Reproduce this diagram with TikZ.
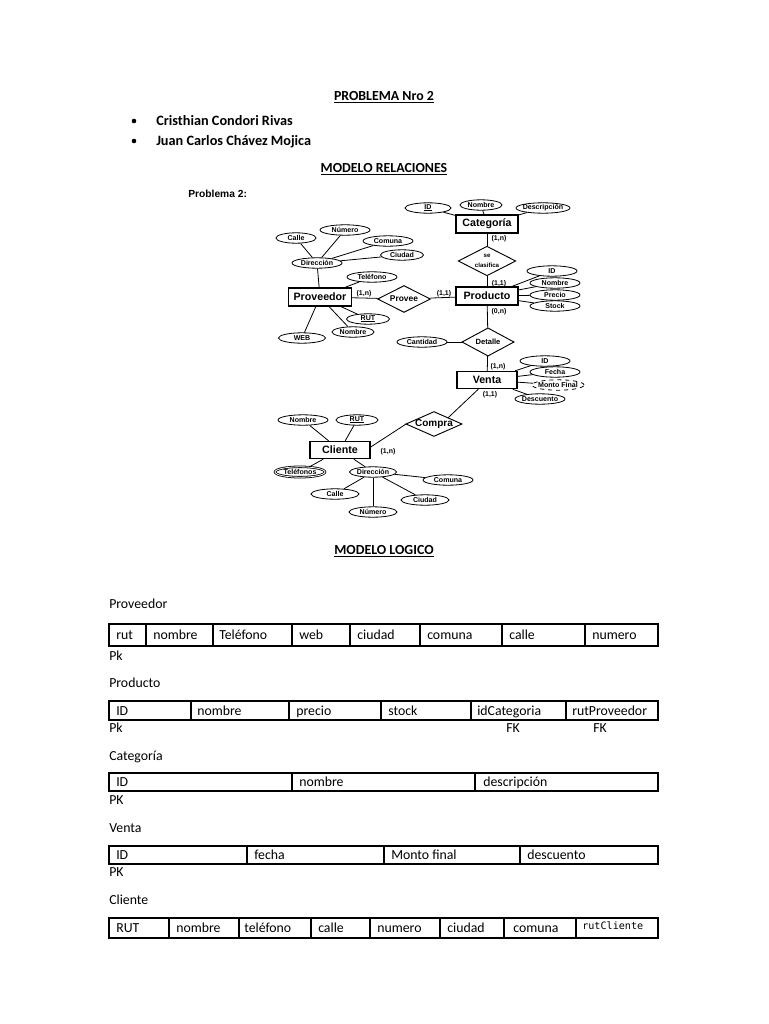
\documentclass[tikz,border=0pt]{standalone}
\usepackage{fontspec}
\setmainfont{Carlito}
\newfontfamily\arialf{Liberation Sans}
\newfontfamily\monof{DejaVu Sans Mono}
\usetikzlibrary{shapes.geometric,calc}
\newcommand\myul[1]{\setbox0\hbox{#1}\rlap{\rule[-0.7pt]{\wd0}{0.35pt}}\box0}
\begin{document}
\begin{tikzpicture}[x=0.75pt,y=-0.75pt,
  txt/.style={inner sep=0pt, anchor=base west, font=\fontsize{10.35}{12}\selectfont},
  hd/.style={inner sep=0pt, anchor=base, font=\bfseries\fontsize{10.4}{12}\selectfont},
  hdl/.style={inner sep=0pt, anchor=base west, font=\bfseries\fontsize{10.7}{12}\selectfont},
  ent/.style={draw, line width=1.1pt, rectangle, inner sep=0pt, minimum width=#1*0.75pt, minimum height=13.5pt, font=\arialf\bfseries\fontsize{8}{9}\selectfont},
  attr/.style={draw, ellipse, line width=0.6pt, inner sep=0pt, minimum width=#1*0.75pt, minimum height=7.8pt, font=\arialf\bfseries\fontsize{5.3}{5.8}\selectfont},
  relbox/.style={rectangle, inner sep=0pt},
  rel/.style={line width=0.7pt, line join=miter},
  card/.style={inner sep=0pt, font=\arialf\bfseries\fontsize{5.2}{6}\selectfont},
  erline/.style={line width=0.6pt},
  grid/.style={line width=0.9pt}
]
\useasboundingbox (0,0) rectangle (768,1024);
\fill[white] (0,0) rectangle (768,1024);

% ---------- header ----------
\node[hd] (title) at (384,100) {\underline{PROBLEMA Nro 2}};
\fill (134,121) circle (2.3);
\fill (134,141) circle (2.3);
\node[hdl] (n1) at (156,125) {Cristhian Condori Rivas};
\node[hdl] (n2) at (156,145) {Juan Carlos Chávez Mojica};
\node[hd] (mrel) at (384,172) {\underline{MODELO RELACIONES}};
\node[inner sep=0pt, anchor=base west, font=\arialf\bfseries\fontsize{7.7}{9}\selectfont] (prob) at (188,197) {Problema 2:};

% ---------- ER diagram ----------
% Proveedor
\node[ent=63] (pv) at (320,297) {Proveedor};
\node[attr=50] (pvdir) at (317,263) {\makebox[0pt]{Dirección}};
\node[attr=40] (pvcalle) at (296,238) {\makebox[0pt]{Calle}};
\node[attr=50] (pvnum) at (345,230) {\makebox[0pt]{Número}};
\node[attr=50] (pvcom) at (388,241) {\makebox[0pt]{Comuna}};
\node[attr=43] (pvciu) at (402,255) {\makebox[0pt]{Ciudad}};
\node[attr=50] (pvtel) at (372,277) {\makebox[0pt]{Teléfono}};
\node[attr=43] (pvrut) at (368,319) {\makebox[0pt]{\myul{RUT}}};
\node[attr=42] (pvnom) at (353,332) {\makebox[0pt]{Nombre}};
\node[attr=47] (pvweb) at (302,338) {\makebox[0pt]{WEB}};
\draw[erline] (pv) -- (pvdir);
\draw[erline] (pvdir) -- (pvcalle);
\draw[erline] (pvdir) -- (pvnum);
\draw[erline] (pvdir) -- (pvcom);
\draw[erline] (pvdir) -- (pvciu);
\draw[erline] (pv) -- (pvtel);
\draw[erline] (pv) -- (pvrut);
\draw[erline] (pv) -- (pvnom);
\draw[erline] (pv) -- (pvweb);

% Provee
\node[relbox, minimum width=39pt, minimum height=19.5pt, font=\arialf\bfseries\fontsize{6.3}{7}\selectfont] (provee) at (404,299) {Provee};
\draw[rel] (provee.west) -- (provee.north) -- (provee.east) -- (provee.south) -- cycle;
\node[card] (c1) at (364,294) {(1,n)};
\node[card] (c2) at (444,294) {(1,1)};

% Categoria
\node[ent=62] (cat) at (487,224) {Categoría};
\node[attr=46] (catid) at (428,208) {\makebox[0pt]{\myul{ID}}};
\node[attr=42] (catnom) at (481,205) {\makebox[0pt]{Nombre}};
\node[attr=54] (catdesc) at (543,208) {\makebox[0pt]{Descripción}};
\draw[erline] (cat) -- (catid);
\draw[erline] (cat) -- (catnom);
\draw[erline] (cat) -- (catdesc);

\node[relbox, minimum width=42.5pt, minimum height=21.5pt, font=\arialf\bfseries\fontsize{4.6}{5.5}\selectfont, align=center] (sc) at (487,261) {se\\[2pt]clasifica};
\draw[rel] (sc.west) -- (sc.north) -- (sc.east) -- (sc.south) -- cycle;
\node[card] (c3) at (499,239) {(1,n)};
\node[card] (c4) at (499,284) {(1,1)};

% Producto
\node[ent=62] (pr) at (487,296) {Producto};
\node[attr=50] (prid) at (552,271) {\makebox[0pt]{ID}};
\node[attr=50] (prnom) at (555,283) {\makebox[0pt]{Nombre}};
\node[attr=50] (prpre) at (555,295) {\makebox[0pt]{Precio}};
\node[attr=50] (prsto) at (555,306) {\makebox[0pt]{Stock}};
\draw[erline] (pr) -- (prid);
\draw[erline] (pr) -- (prnom);
\draw[erline] (pr) -- (prpre);
\draw[erline] (pr) -- (prsto);
\node[card] (c5) at (499,312) {(0,n)};

\draw[erline] (pv) -- (provee);
\draw[erline] (provee) -- (pr);
\draw[erline] (cat) -- (sc);
\draw[erline] (sc) -- (pr);

% Detalle
\node[relbox, minimum width=38.5pt, minimum height=20.5pt, font=\arialf\bfseries\fontsize{5.7}{6.5}\selectfont] (det) at (488,342) {Detalle};
\draw[rel] (det.west) -- (det.north) -- (det.east) -- (det.south) -- cycle;
\node[attr=50] (cant) at (422,342) {\makebox[0pt]{Cantidad}};
\draw[erline] (pr) -- (det);
\draw[erline] (det) -- (cant);
\node[card] (c6) at (498,367) {(1,n)};

% Venta
\node[ent=60, minimum height=12.75pt] (ve) at (487,380) {Venta};
\node[attr=50] (veid) at (545,361) {\makebox[0pt]{ID}};
\node[attr=50] (vefec) at (555,372) {\makebox[0pt]{Fecha}};
\node[attr=52, dashed] (vemon) at (558,385) {\makebox[0pt]{Monto Final}};
\node[attr=50] (vedes) at (540,399) {\makebox[0pt]{Descuento}};
\draw[erline] (det) -- (ve);
\draw[erline] (ve) -- (veid);
\draw[erline] (ve) -- (vefec);
\draw[erline] (ve) -- (vemon);
\draw[erline] (ve) -- (vedes);
\node[card] (c7) at (490,395) {(1,1)};

% Compra
\node[relbox, minimum width=41.5pt, minimum height=18pt, font=\arialf\bfseries\fontsize{7.5}{8}\selectfont] (comp) at (434,424) {Compra};
\draw[rel] (comp.west) -- (comp.north) -- (comp.east) -- (comp.south) -- cycle;
\draw[erline] (ve.south west) ++(22,0) coordinate (vebot) (vebot) -- ($(comp.north)!0.5!(comp.east)$);

% Cliente
\node[ent=60, minimum height=12.75pt] (cl) at (340,450) {Cliente};
\node[card] (c8) at (388,452) {(1,n)};
\draw[erline] (cl.east) ++(0,-3) coordinate (cleast) (cleast) -- (comp.west);
\node[attr=50] (clnom) at (303,420) {\makebox[0pt]{Nombre}};
\node[attr=42] (clrut) at (357,420) {\makebox[0pt]{\myul{RUT}}};
\node[attr=50, double, double distance=0.6pt] (cltel) at (300,472) {\makebox[0pt]{Teléfonos}};
\node[attr=47] (cldir) at (373,472) {\makebox[0pt]{Dirección}};
\node[attr=50] (clcom) at (448,480) {\makebox[0pt]{Comuna}};
\node[attr=48] (clcalle) at (335,494) {\makebox[0pt]{Calle}};
\node[attr=48] (clciu) at (425,500) {\makebox[0pt]{Ciudad}};
\node[attr=48] (clnum) at (373,512) {\makebox[0pt]{Número}};
\draw[erline] (cl) -- (clnom);
\draw[erline] (cl) -- (clrut);
\draw[erline] (cl) -- (cltel);
\draw[erline] (cl) -- (cldir);
\draw[erline] (cldir) -- (clcom);
\draw[erline] (cldir) -- (clcalle);
\draw[erline] (cldir) -- (clciu);
\draw[erline] (cldir) -- (clnum);

% ---------- Modelo logico ----------
\node[hd] (mlog) at (384,554) {\underline{MODELO LOGICO}};

% Proveedor table
\node[txt] (tpv) at (109,608) {Proveedor};
\draw[grid] (109,624) rectangle (658,646);
\foreach \x in {146,213,292,350,420,502,585} \draw[grid] (\x,624) -- (\x,646);
\node[txt] (pv1) at (116,639) {rut};
\node[txt] (pv2) at (153,639) {nombre};
\node[txt] (pv3) at (219,639) {Teléfono};
\node[txt] (pv4) at (299,639) {web};
\node[txt] (pv5) at (357,639) {ciudad};
\node[txt] (pv6) at (427,639) {comuna};
\node[txt] (pv7) at (509,639) {calle};
\node[txt] (pv8) at (592,639) {numero};
\node[txt] (pvk) at (109,660) {Pk};

% Producto table
\node[txt] (tpr) at (109,687) {Producto};
\draw[grid] (109,701) rectangle (658,720);
\foreach \x in {191,289,381,471,566} \draw[grid] (\x,701) -- (\x,720);
\node[txt] (pr1) at (116,715) {ID};
\node[txt] (pr2) at (197,715) {nombre};
\node[txt] (pr3) at (296,715) {precio};
\node[txt] (pr4) at (388,715) {stock};
\node[txt] (pr5) at (477,715) {idCategoria};
\node[txt] (pr6) at (572,715) {rutProveedor};
\node[txt] (prk) at (109,732) {Pk};
\node[txt] (prf1) at (506,732) {FK};
\node[txt] (prf2) at (593,732) {FK};

% Categoria table
\node[txt] (tca) at (109,760) {Categoría};
\draw[grid] (109,773) rectangle (658,791);
\foreach \x in {292,475} \draw[grid] (\x,773) -- (\x,791);
\node[txt] (ca1) at (116,786) {ID};
\node[txt] (ca2) at (299,786) {nombre};
\node[txt] (ca3) at (483,786) {descripción};
\node[txt] (cak) at (109,804) {PK};

% Venta table
\node[txt] (tve) at (109,832) {Venta};
\draw[grid] (109,846) rectangle (658,864);
\foreach \x in {247,384,520} \draw[grid] (\x,846) -- (\x,864);
\node[txt] (ve1) at (116,859) {ID};
\node[txt] (ve2) at (254,859) {fecha};
\node[txt] (ve3) at (391,859) {Monto final};
\node[txt] (ve4) at (527,859) {descuento};
\node[txt] (vek) at (109,876) {PK};

% Cliente table
\node[txt] (tcl) at (109,904) {Cliente};
\draw[grid] (109,918) rectangle (658,938);
\foreach \x in {169,239,311,370,440,504,576} \draw[grid] (\x,918) -- (\x,938);
\node[txt] (cl1) at (116,932) {RUT};
\node[txt] (cl2) at (176,932) {nombre};
\node[txt] (cl3) at (244,932) {teléfono};
\node[txt] (cl4) at (318,932) {calle};
\node[txt] (cl5) at (377,932) {numero};
\node[txt] (cl6) at (447,932) {ciudad};
\node[txt] (cl7) at (513,932) {comuna};
\node[inner sep=0pt, anchor=base west, font=\monof\fontsize{7.6}{9}\selectfont] (cl8) at (582,929) {rutCliente};
\end{tikzpicture}
\end{document}
